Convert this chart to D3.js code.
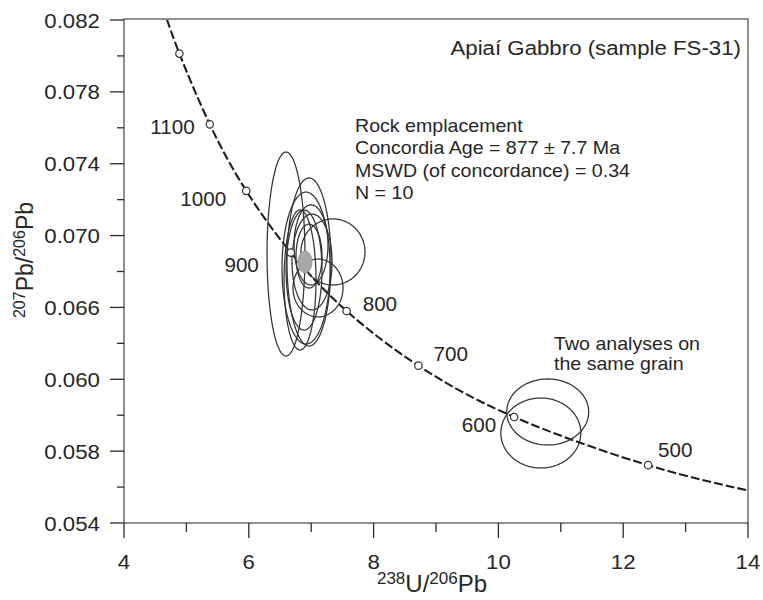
<!DOCTYPE html>
<html>
<head>
<meta charset="utf-8">
<script src="https://cdn.jsdelivr.net/npm/d3@7"></script>
<style>
  body { margin: 0; background: #fff; }
  text { font-family: Arial, "Liberation Sans", Helvetica, sans-serif; fill: #262626; }
</style>
</head>
<body>
<svg id="chart" width="763" height="600"></svg>
<script>
// Concordia curve reference points: age (Ma), 238U/206Pb, 207Pb/206Pb
const concordiaAge = [440, 500, 600, 700, 800, 900, 1000, 1100, 1200, 1250];
const concordiaX   = [14.157, 12.399, 10.252, 8.718, 7.568, 6.674, 5.959, 5.375, 4.888, 4.673];
const concordiaY   = [0.05569, 0.05722, 0.05990, 0.06276, 0.06580, 0.06905, 0.07249, 0.07619, 0.08013, 0.08219];
const markedAges   = [500, 600, 700, 800, 900, 1000, 1100, 1200];
const labelledAges = [500, 600, 700, 800, 900, 1000, 1100];

// Zircon spot analyses (centre and error half-widths)
const spotX    = [6.596, 6.965, 7.349, 6.917, 6.885, 7.013, 6.965, 7.109, 6.821, 6.997];
const spotY    = [0.06897, 0.06853, 0.06909, 0.06819, 0.06808, 0.06853, 0.06886, 0.06708, 0.06753, 0.06948];
const spotErrX = [0.304, 0.353, 0.513, 0.385, 0.288, 0.321, 0.208, 0.401, 0.256, 0.272];
const spotErrY = [0.00568, 0.00468, 0.00184, 0.00423, 0.00334, 0.00267, 0.00178, 0.00161, 0.00390, 0.00223];

// Two analyses on the same grain
const grainX    = [10.79, 10.68];
const grainY    = [0.06018, 0.05901];
const grainErrX = [0.657, 0.641];
const grainErrY = [0.001837, 0.001948];

// Concordia age ellipse
const concAgeX = [6.90];
const concAgeY = [0.06853];
const concAgeErrX = [0.112];
const concAgeErrY = [0.00061];

// Axis ticks
const xTicks = [4, 5, 6, 7, 8, 9, 10, 11, 12, 13, 14];
const xMajorTicks = [4, 6, 8, 10, 12, 14];
const xTickLabels = ["4", "6", "8", "10", "12", "14"];
const yTicks = [0.054, 0.056, 0.058, 0.060, 0.062, 0.064, 0.066, 0.068, 0.070, 0.072, 0.074, 0.076, 0.078, 0.080, 0.082];
const yMajorTicks = [0.054, 0.058, 0.062, 0.066, 0.070, 0.074, 0.078, 0.082];
const yTickLabels = ["0.054", "0.058", "0.060", "0.066", "0.070", "0.074", "0.078", "0.082"];

const annotation = ["Rock emplacement", "Concordia Age = 877 \u00b1 7.7 Ma", "MSWD (of concordance) = 0.34", "N = 10"];
const grainNote = ["Two analyses on", "the same grain"];
const sampleTitle = "Apia\u00ed Gabbro (sample FS-31)";

const svg = d3.select("#chart");
const x = d3.scaleLinear().domain([4, 14]).range([124, 748]);
const y = d3.scaleLinear().domain([0.054, 0.082]).range([523, 20]);
const STRETCH = 1.06;
const ink = "#2b2b2b";

// text helper with slight horizontal widening of the glyphs
function label(parent, px, py, str, size, anchor) {
  return parent.append("text")
    .attr("transform", `translate(${px},${py}) scale(${STRETCH},1)`)
    .attr("font-size", size)
    .attr("text-anchor", anchor || "start")
    .text(str);
}

svg.append("defs").append("clipPath").attr("id", "plotClip")
  .append("rect").attr("x", x(4)).attr("y", y(0.082)).attr("width", x(14) - x(4)).attr("height", y(0.054) - y(0.082));

const plot = svg.append("g").attr("clip-path", "url(#plotClip)");

// frame
svg.append("rect")
  .attr("x", x(4)).attr("y", y(0.082) - 1)
  .attr("width", x(14) - x(4)).attr("height", y(0.054) - y(0.082) + 1)
  .attr("fill", "none").attr("stroke", "#555").attr("stroke-width", 1.3);

// x axis ticks
svg.append("g").selectAll("line").data(xTicks).join("line")
  .attr("x1", d => x(d)).attr("x2", d => x(d))
  .attr("y1", y(0.054))
  .attr("y2", d => y(0.054) + (xMajorTicks.includes(d) ? 15 : 9))
  .attr("stroke", ink).attr("stroke-width", 1.3);
xMajorTicks.forEach((v, i) => label(svg, x(v), 569, xTickLabels[i], 21, "middle"));

// y axis ticks
svg.append("g").selectAll("line").data(yTicks).join("line")
  .attr("y1", d => y(d)).attr("y2", d => y(d))
  .attr("x1", x(4))
  .attr("x2", d => x(4) - (yMajorTicks.some(m => Math.abs(m - d) < 1e-9) ? 14 : 7))
  .attr("stroke", ink).attr("stroke-width", 1.3);
yMajorTicks.forEach((v, i) => label(svg, 100, y(v) + 7.5, yTickLabels[i], 21, "end"));

// axis titles
const xt = svg.append("text").attr("x", 432).attr("y", 592).attr("text-anchor", "middle").attr("font-size", 24);
xt.append("tspan").attr("font-size", 17).attr("dy", -8).text("238");
xt.append("tspan").attr("dy", 8).text("U/");
xt.append("tspan").attr("font-size", 17).attr("dy", -8).text("206");
xt.append("tspan").attr("dy", 8).text("Pb");

const yt = svg.append("text").attr("transform", "translate(33,260) rotate(-90)").attr("text-anchor", "middle").attr("font-size", 23);
yt.append("tspan").attr("font-size", 16).attr("dy", -8).text("207");
yt.append("tspan").attr("dy", 8).text("Pb/");
yt.append("tspan").attr("font-size", 16).attr("dy", -8).text("206");
yt.append("tspan").attr("dy", 8).text("Pb");

// error ellipse outline through the scales
function ellipse(cx, cy, ex, ey) {
  const pts = d3.range(0, 360, 3).map(a => {
    const t = a * Math.PI / 180;
    return [x(cx + ex * Math.cos(t)), y(cy + ey * Math.sin(t))];
  });
  return d3.line().curve(d3.curveLinearClosed)(pts);
}

// concordia curve
const concPts = concordiaAge.map((a, i) => [concordiaX[i], concordiaY[i]]);
plot.append("path")
  .attr("d", d3.line().x(d => x(d[0])).y(d => y(d[1])).curve(d3.curveNatural)(concPts))
  .attr("fill", "none").attr("stroke", "#1e1e1e").attr("stroke-width", 2.1)
  .attr("stroke-dasharray", "9,3");

// spot ellipses
plot.append("g").selectAll("path").data(spotX).join("path")
  .attr("d", (d, i) => ellipse(spotX[i], spotY[i], spotErrX[i], spotErrY[i]))
  .attr("fill", "none").attr("stroke", "#333").attr("stroke-width", 1.25);

plot.append("g").selectAll("path").data(grainX).join("path")
  .attr("d", (d, i) => ellipse(grainX[i], grainY[i], grainErrX[i], grainErrY[i]))
  .attr("fill", "none").attr("stroke", "#333").attr("stroke-width", 1.25);

// age markers
const idx = a => concordiaAge.indexOf(a);
plot.append("g").selectAll("circle").data(markedAges).join("circle")
  .attr("cx", a => x(concordiaX[idx(a)])).attr("cy", a => y(concordiaY[idx(a)]))
  .attr("r", 3.7).attr("fill", "#fff").attr("stroke", "#333").attr("stroke-width", 1.2);

// concordia age ellipse
plot.append("path")
  .attr("d", ellipse(concAgeX[0], concAgeY[0], concAgeErrX[0], concAgeErrY[0]))
  .attr("fill", "#a8a8a8").attr("stroke", "#8a8a8a").attr("stroke-width", 0.8);

// age labels, placed beside their markers
const ageLabelOffset = {
  500:  [10, -8, "start"],
  600:  [-18, 15, "end"],
  700:  [15, -5, "start"],
  800:  [16, 0, "start"],
  900:  [-32, 19, "end"],
  1000: [-20, 15, "end"],
  1100: [-15, 10, "end"]
};
labelledAges.forEach(a => {
  const o = ageLabelOffset[a];
  label(svg, x(concordiaX[idx(a)]) + o[0], y(concordiaY[idx(a)]) + o[1], String(a), 19.5, o[2]);
});

// annotations
label(svg, 741, 55, sampleTitle, 21, "end");
annotation.forEach((s, i) => label(svg, 355, 132 + i * 22.4, s, 18.5, "start"));
grainNote.forEach((s, i) => label(svg, 554, 350 + i * 19.5, s, 18.5, "start"));
</script>
</body>
</html>
